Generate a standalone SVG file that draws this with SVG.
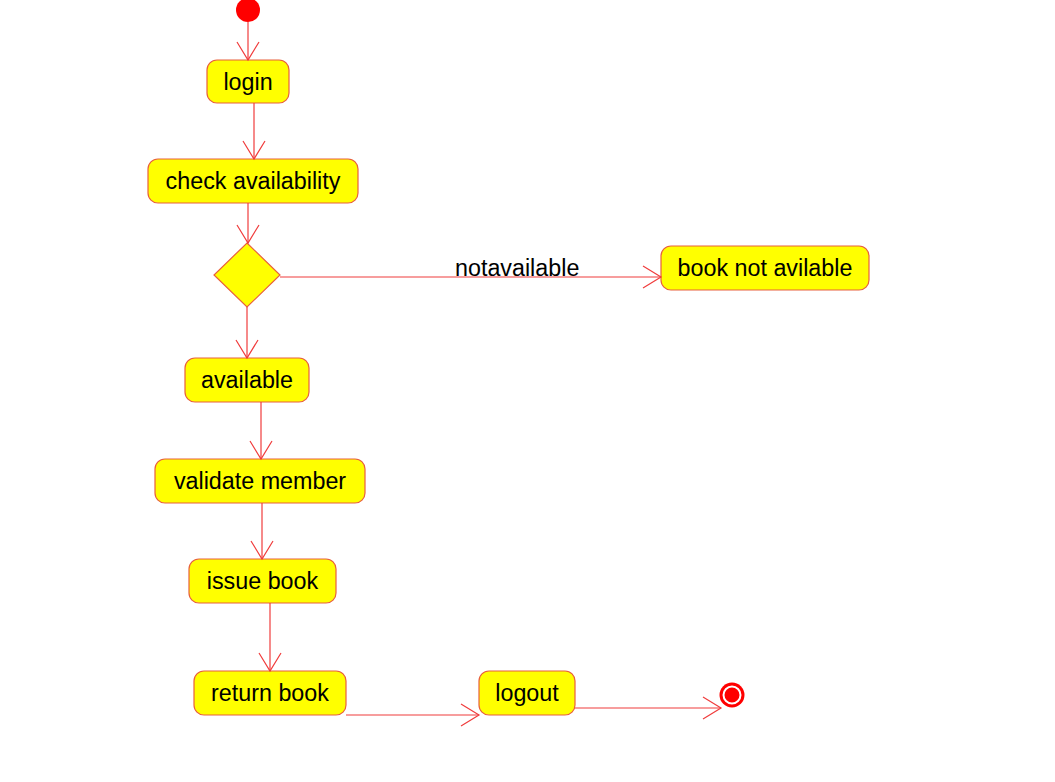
<svg xmlns="http://www.w3.org/2000/svg" width="1055" height="782" viewBox="0 0 1055 782">
<style>
.node rect{fill:#ffff00;stroke:#e8603c;stroke-width:1.2}
.node polygon{fill:#ffff00;stroke:#e8603c;stroke-width:1.2}
.node text,.lbl{font-family:"Liberation Sans",Arial,sans-serif;font-size:23.3px;fill:#000}
.node text{text-anchor:middle}
#connectors line{stroke:#f03c3c;stroke-width:1.2;fill:none;marker-end:url(#arr)}
</style>
<defs>
<marker id="arr" markerUnits="userSpaceOnUse" viewBox="-20 -12 22 24" refX="0" refY="0" markerWidth="22" markerHeight="24" orient="auto">
<path d="M-18,-11 L0,0 L-18,11" fill="none" stroke="#f03c3c" stroke-width="1.2"/>
</marker>
</defs>
<rect width="1055" height="782" fill="#fff"/>
<g id="start"><circle cx="248" cy="10" r="12" fill="#ff0000"/></g>
<g id="login" class="node"><rect x="207" y="60" width="82" height="43" rx="10"/><text x="248" y="89.5">login</text></g>
<g id="check" class="node"><rect x="148" y="159" width="210" height="44" rx="10"/><text x="253" y="189">check availability</text></g>
<g id="decision" class="node"><polygon points="247,243 280,275 247,307 214,275"/></g>
<g id="notavail" class="node"><rect x="661" y="246" width="208" height="44" rx="10"/><text x="765" y="276">book not avilable</text></g>
<g id="available" class="node"><rect x="185" y="358" width="124" height="44" rx="10"/><text x="247" y="388">available</text></g>
<g id="validate" class="node"><rect x="155" y="459" width="210" height="44" rx="10"/><text x="260" y="489">validate member</text></g>
<g id="issue" class="node"><rect x="189" y="559" width="147" height="44" rx="10"/><text x="262.5" y="589">issue book</text></g>
<g id="return" class="node"><rect x="194" y="671" width="152" height="44" rx="10"/><text x="270" y="701">return book</text></g>
<g id="logout" class="node"><rect x="479" y="671" width="96" height="44" rx="10"/><text x="527" y="701">logout</text></g>
<g id="end"><circle cx="732" cy="695" r="12.5" fill="#ff0000"/><circle cx="732" cy="695" r="8.5" fill="none" stroke="#fff" stroke-width="2"/></g>
<g id="connectors">
<line x1="248" y1="22" x2="248" y2="60"/>
<line x1="254" y1="103" x2="254" y2="159"/>
<line x1="248" y1="203" x2="248" y2="243"/>
<line x1="280" y1="277" x2="661" y2="277"/>
<line x1="247" y1="307" x2="247" y2="358"/>
<line x1="261" y1="402" x2="261" y2="459"/>
<line x1="262" y1="503" x2="262" y2="559"/>
<line x1="270" y1="603" x2="270" y2="671"/>
<line x1="346" y1="715" x2="479" y2="715"/>
<line x1="575" y1="708" x2="721" y2="708"/>
<text class="lbl" x="455" y="276">notavailable</text>
</g>
</svg>
